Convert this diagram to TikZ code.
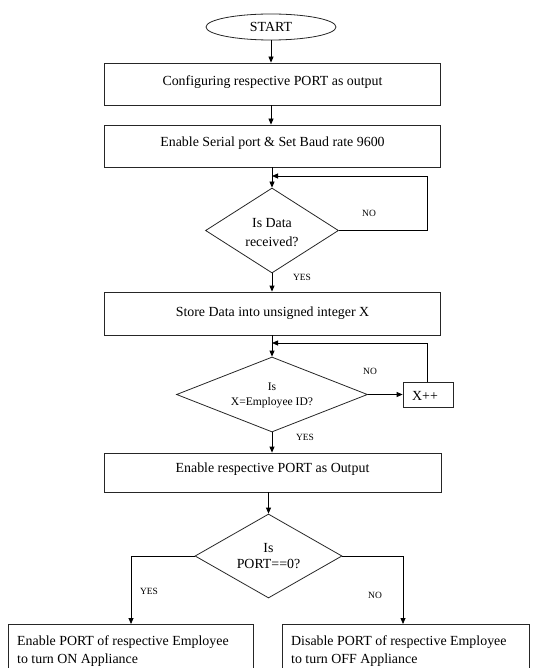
\documentclass[tikz,border=0pt]{standalone}
\usepackage{fontspec}
\setmainfont{Liberation Serif}
\usetikzlibrary{shapes.geometric,arrows.meta}

\tikzset{
  shapeline/.style={draw=black!85, line width=0.8pt},
  procbox/.style={shapeline, rectangle, inner sep=0pt},
  decision/.style={shapeline, diamond, inner sep=0pt},
  flow/.style={draw=black, line width=0.8pt, -{Triangle[length=6pt,width=5pt]}},
  txt/.style={anchor=base, inner sep=0pt, font=\fontsize{13.9}{16}\selectfont},
  txtsmall/.style={anchor=base, inner sep=0pt, font=\fontsize{11.6}{14}\selectfont},
  tag/.style={anchor=base, inner sep=0pt, font=\fontsize{9.5}{11}\selectfont},
}

\begin{document}
\begin{tikzpicture}[x=1pt, y=-1pt]
\useasboundingbox (0,0) rectangle (534,668);

% terminal
\node[shapeline, ellipse, minimum width=130pt, minimum height=26pt, inner sep=0pt,
      font=\fontsize{13.9}{16}\selectfont] (start) at (271,27) {START};

% process boxes
\node[procbox, minimum width=336pt, minimum height=42pt] (cfg) at (272.5,84) {};
\node[txt] (cfgtext) at (272.5,86) {Configuring respective PORT as output};

\node[procbox, minimum width=336pt, minimum height=42pt] (serial) at (272.5,146) {};
\node[txt] (serialtext) at (272.5,147) {Enable Serial port \& Set Baud rate 9600};

% decision: data received
\node[decision, minimum width=133pt, minimum height=85pt] (rx) at (272,230.5) {};
\node[txt] (rxa) at (272,227) {Is Data};
\node[txt] (rxb) at (272,246) {received?};

\node[procbox, minimum width=336pt, minimum height=43pt] (store) at (272.5,313.5) {};
\node[txt] (storetext) at (272.5,316) {Store Data into unsigned integer X};

% decision: employee id
\node[decision, minimum width=191pt, minimum height=75pt] (id) at (272,394.5) {};
\node[txtsmall] (ida) at (272,390) {Is};
\node[txtsmall] (idb) at (272,405) {X=Employee ID?};

\node[procbox, minimum width=50pt, minimum height=25pt] (inc) at (428,394.5) {};
\node[txt] (inctext) at (425,400) {X++};

\node[procbox, minimum width=337pt, minimum height=39pt] (enport) at (272.5,472.5) {};
\node[txt] (enporttext) at (272.5,472) {Enable respective PORT as Output};

% decision: port state
\node[decision, minimum width=147pt, minimum height=84pt] (port) at (268.5,556) {};
\node[txt] (porta) at (268.5,552) {Is};
\node[txt] (portb) at (268.5,568) {PORT==0?};

% outcome boxes (run past the lower edge)
\node[procbox, minimum width=245pt, minimum height=60pt, anchor=north west] (on) at (8,624) {};
\node[txt, anchor=base west] (ona) at (17,645) {Enable PORT of respective Employee};
\node[txt, anchor=base west] (onb) at (17,663) {to turn ON Appliance};

\node[procbox, minimum width=247pt, minimum height=60pt, anchor=north west] (off) at (282,624) {};
\node[txt, anchor=base west] (offa) at (291,645) {Disable PORT of respective Employee};
\node[txt, anchor=base west] (offb) at (291,663) {to turn OFF Appliance};

% loop return points
\coordinate (join1) at (272,176);
\coordinate (join2) at (272,343);

% main flow
\draw[flow] (start.south) -- (start.south |- cfg.north);
\draw[flow] (cfg.south -| start.south) -- (start.south |- serial.north);
\draw[flow] (serial.south -| rx.north) -- (rx.north);
\draw[flow] (rx.south) -- (rx.south |- store.north);
\draw[flow] (store.south -| id.north) -- (id.north);
\draw[flow] (id.south) -- (id.south |- enport.north);
\draw[flow] (enport.south -| port.north) -- (port.north);

% wait loop
\draw[flow] (rx.east) -- (427,230.5) -- (427,176) -- (join1);
\node[tag] (no1) at (369,216) {NO};
\node[tag] (yes1) at (302,280) {YES};

% search loop
\draw[flow] (id.east) -- (inc.west);
\draw[flow] (inc.north -| 427,0) -- (427,343) -- (join2);
\node[tag] (no2) at (370,374) {NO};
\node[tag] (yes2) at (305,440) {YES};

% final branches
\draw[flow] (port.west) -- (131,556) -- (131,624);
\draw[flow] (port.east) -- (403,556) -- (403,624);
\node[tag] (yes3) at (149,594) {YES};
\node[tag] (no3) at (375,598) {NO};
\end{tikzpicture}
\end{document}
